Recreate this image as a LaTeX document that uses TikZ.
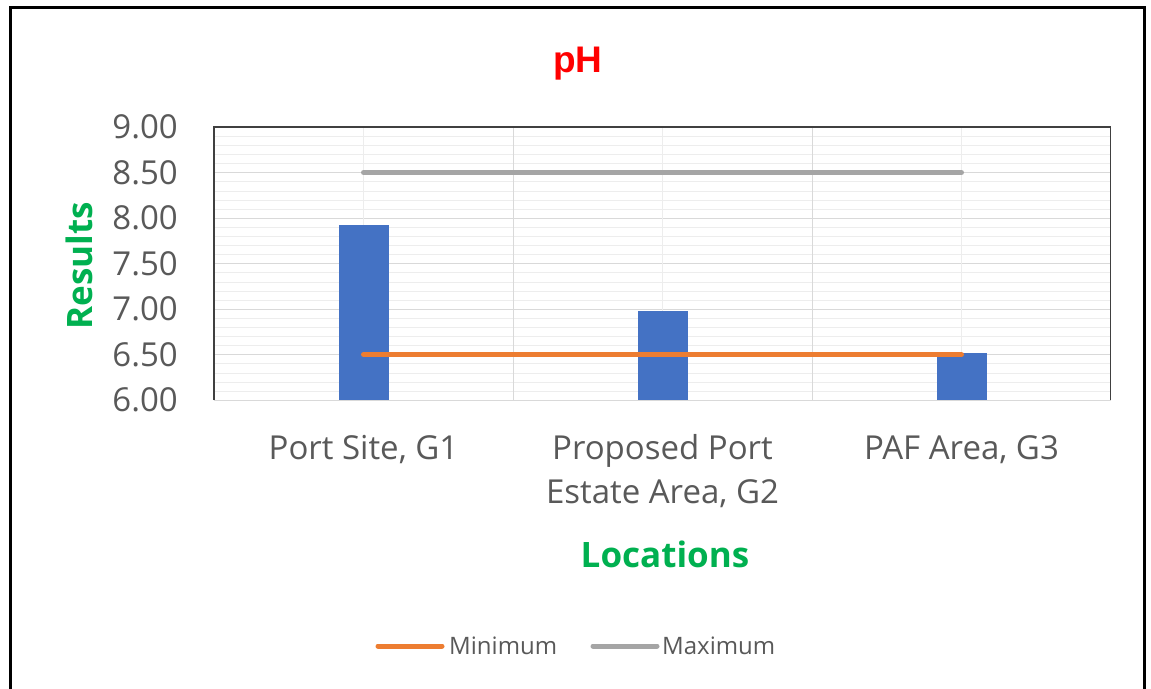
\documentclass[tikz,border=0pt]{standalone}
\usepackage{fontspec}
\setmainfont{Open Sans}
\newfontfamily\titlefont{Liberation Sans}
\usetikzlibrary{positioning}
\definecolor{barblue}{HTML}{4472C4}
\definecolor{minorange}{HTML}{ED7D31}
\definecolor{maxgray}{HTML}{A5A5A5}
\definecolor{labgray}{HTML}{595959}
\definecolor{axgreen}{HTML}{00B050}
\definecolor{majgrid}{HTML}{D9D9D9}
\definecolor{mingrid}{HTML}{EDEDED}
\begin{document}
\begin{tikzpicture}[x=1pt, y=-1pt,
  tick/.style={anchor=east, text=labgray, inner sep=0pt, font=\fontsize{33}{33}\selectfont},
  catlabel/.style={anchor=base, text=labgray, align=center, inner sep=0pt, font=\fontsize{33}{44}\selectfont},
  axtitle/.style={anchor=base, text=axgreen, inner sep=0pt, font=\fontsize{35}{35}\selectfont\bfseries},
  legtext/.style={anchor=west, text=labgray, inner sep=0pt, font=\fontsize{24}{24}\selectfont},
  limit/.style={line width=5pt, line cap=round}]
\useasboundingbox (0,0) rectangle (1151,688);
\fill[white] (0,0) rectangle (1151,688);
\draw[line width=3pt] (10,692)--(10,7)--(1144,7)--(1144,692);

\node[anchor=base, text=red, inner sep=0pt, font=\titlefont\fontsize{37}{37}\selectfont\bfseries] (title) at (578,72) {pH};

\begin{scope}[shift={(214,400)}, x=1pt, y=91pt]
\foreach \i in {1,...,29}
{
  \draw[mingrid] (0,\i/10)--(896.5,\i/10);
}
\foreach \i in {1,...,5}
  \draw[majgrid] (0,\i/2)--(896.5,\i/2);
\foreach \x in {149.5,448.5,747.5}
  \draw[mingrid] (\x,0)--(\x,3);
\foreach \x in {299,598}
  \draw[majgrid] (\x,0)--(\x,3);
\draw[majgrid, thick] (0,0)--(896.5,0);
\draw[black!75, line width=1.3pt] (0,0)--(0,3)--(896.5,3)--(896.5,0);

\foreach \x/\h in {149.5/1.92, 448.5/0.98, 747.5/0.52}
  \fill[barblue] (\x-25,0) rectangle (\x+25,\h);

\draw[limit, maxgray] (149.5,2.5)--(747.5,2.5);
\draw[limit, minorange] (149.5,0.5)--(747.5,0.5);

\foreach \v [count=\k] in {6.00,6.50,7.00,7.50,8.00,8.50,9.00}
  \node[tick] (tick\k) at (-36,\v-6) {\v};
\end{scope}

\node[catlabel] (gone) at (363.5,459) {Port Site, G1};
\node[catlabel] (gtwo) at (662.5,503) {Proposed Port\\Estate Area, G2};
\node[catlabel] (gthree) at (961.5,459) {PAF Area, G3};

\node[axtitle] (xtitle) at (665,567) {Locations};
\node[axtitle, rotate=90] (ytitle) at (92,266) {Results};

\node[legtext] (legmin) at (449,646) {Minimum};
\node[legtext] (legmax) at (662,646) {Maximum};
\draw[limit, minorange] ([xshift=-7pt]legmin.west) -- ++(-64,0);
\draw[limit, maxgray] ([xshift=-5pt]legmax.west) -- ++(-64,0);
\end{tikzpicture}
\end{document}
